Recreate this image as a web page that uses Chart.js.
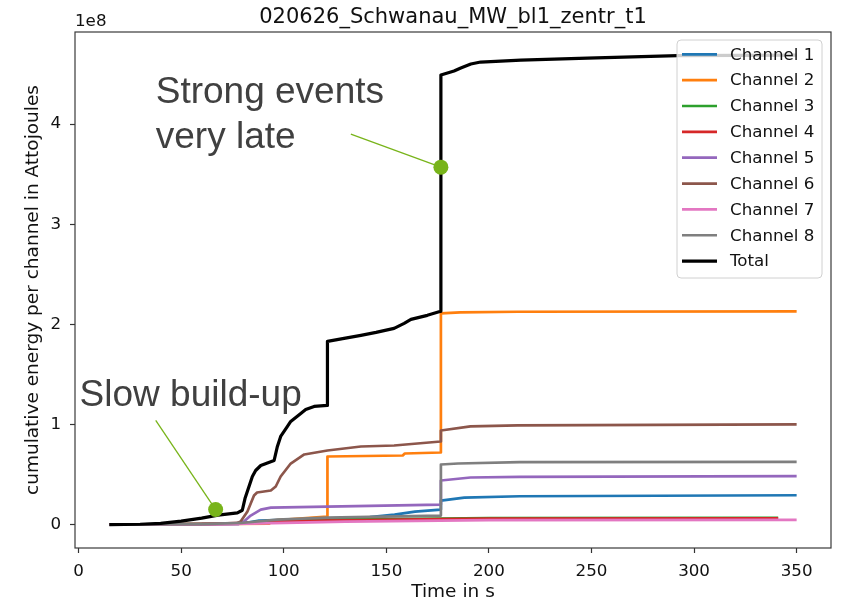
<!DOCTYPE html>
<html>
<head>
<meta charset="utf-8">
<script src="https://cdn.jsdelivr.net/npm/chart.js@4.4.0/dist/chart.umd.min.js"></script>
<style>
    html, body { margin: 0; padding: 0; background: #fff; }
    #wrap { width: 845px; height: 603px; }
</style>
</head>
<body>
<div id="wrap"><canvas id="energy" width="845" height="603"></canvas></div>
<script>
'use strict';

// time in s, cumulative energy in units of 1e8 aJ
var ch1T = [15, 80, 88, 120, 142, 154, 164, 176.5, 176.6, 188, 215, 350];
var ch1E = [0, 0.01, 0.04, 0.06, 0.075, 0.10, 0.13, 0.15, 0.24, 0.27, 0.283, 0.293];
var ch2T = [15, 93, 94, 121.2, 121.3, 158, 159, 176.5, 176.6, 186, 214, 350];
var ch2E = [0, 0.01, 0.04, 0.08, 0.68, 0.69, 0.71, 0.72, 2.11, 2.12, 2.126, 2.13];
var ch3T = [15, 60, 80, 95, 120, 176, 200, 341];
var ch3E = [0, 0.005, 0.015, 0.04, 0.05, 0.06, 0.065, 0.068];
var ch4T = [15, 60, 85, 100, 140, 176, 200, 341];
var ch4E = [0, 0.005, 0.02, 0.035, 0.045, 0.055, 0.06, 0.062];
var ch5T = [15, 78, 80.6, 83.9, 88.8, 93.7, 121.3, 176.5, 176.6, 191, 215, 350];
var ch5E = [0, 0.005, 0.03, 0.09, 0.15, 0.17, 0.18, 0.20, 0.44, 0.47, 0.476, 0.483];
var ch6T = [15, 77, 79, 82.3, 85.5, 87, 93.7, 96.1, 98.5, 103.4, 110, 121.3, 137.6, 153.8, 176.5, 176.6, 191, 214, 350];
var ch6E = [0, 0.01, 0.03, 0.13, 0.29, 0.32, 0.34, 0.38, 0.48, 0.61, 0.70, 0.74, 0.78, 0.79, 0.83, 0.94, 0.98, 0.99, 1.0];
var ch7T = [15, 70, 95, 130, 176, 200, 350];
var ch7E = [0, 0.005, 0.015, 0.03, 0.04, 0.045, 0.047];
var ch8T = [15, 60, 79, 97, 121, 176.5, 176.6, 185, 215, 350];
var ch8E = [0, 0.005, 0.016, 0.05, 0.07, 0.09, 0.60, 0.61, 0.623, 0.626];
var totT = [15, 30, 40, 50, 60, 68, 77.4, 79.8, 81.1, 84.7, 86.3, 88.8, 95.3, 96.9, 98.5, 101.8, 103.4, 108.3, 110.7, 114.8,
            121.2, 121.3, 129.4, 137.6, 145, 153.8, 158.7, 162, 170, 176.5, 176.6, 183, 186.3, 191.2, 196, 215.6, 248, 292, 350];
var totE = [0, 0.003, 0.012, 0.035, 0.065, 0.095, 0.116, 0.143, 0.26, 0.48, 0.54, 0.59, 0.64, 0.78, 0.88, 0.98, 1.03, 1.11, 1.15, 1.18,
            1.19, 1.83, 1.86, 1.89, 1.92, 1.96, 2.01, 2.05, 2.09, 2.13, 4.49, 4.53, 4.56, 4.60, 4.62, 4.64, 4.66, 4.685, 4.69];

var seriesNames = ['Channel 1', 'Channel 2', 'Channel 3', 'Channel 4', 'Channel 5', 'Channel 6', 'Channel 7', 'Channel 8', 'Total'];
var seriesColors = ['#1f77b4', '#ff7f0e', '#2ca02c', '#d62728', '#9467bd', '#8c564b', '#e377c2', '#7f7f7f', '#000000'];
var seriesT = [ch1T, ch2T, ch3T, ch4T, ch5T, ch6T, ch7T, ch8T, totT];
var seriesE = [ch1E, ch2E, ch3E, ch4E, ch5E, ch6E, ch7E, ch8E, totE];

var xTicks = [0, 50, 100, 150, 200, 250, 300, 350];
var yTicks = [0, 1, 2, 3, 4];

// callouts: text anchor, line start, marker on the total curve (data coords)
var notes = [
    { lines: ['Strong events', 'very late'], tx: 37.6, ty: 4.21, lx: 132.7, ly: 3.90, px: 176.6, py: 3.57 },
    { lines: ['Slow build-up'], tx: 0.5, ty: 1.18, lx: 37.6, ly: 1.04, px: 66.8, py: 0.15 }
];

var tickFont = { family: 'DejaVu Sans', size: 16.7 };
var labelFont = { family: 'DejaVu Sans', size: 18.5 };

var datasets = seriesNames.map(function (name, i) {
    return {
        label: name,
        data: seriesT[i].map(function (t, k) { return { x: t, y: seriesE[i][k] }; }),
        borderColor: seriesColors[i],
        backgroundColor: seriesColors[i],
        borderWidth: i === 8 ? 3.2 : 2.7,
        borderJoinStyle: 'round',
        pointRadius: 0,
        tension: 0,
        fill: false,
        order: 9 - i
    };
});

var extras = {
    id: 'extras',
    afterDraw: function (chart) {
        var ctx = chart.ctx;
        var ca = chart.chartArea;
        var xs = chart.scales.x, ys = chart.scales.y;
        ctx.save();

        // axes box
        ctx.strokeStyle = '#3a3a3a';
        ctx.lineWidth = 1.2;
        ctx.strokeRect(ca.left, ca.top, ca.right - ca.left, ca.bottom - ca.top);

        // offset text of the y axis
        ctx.fillStyle = '#111';
        ctx.font = '16.7px "DejaVu Sans"';
        ctx.textAlign = 'left';
        ctx.textBaseline = 'alphabetic';
        ctx.fillText('1e8', ca.left, ca.top - 6);

        // callouts
        notes.forEach(function (n) {
            var green = '#78b41a';
            ctx.strokeStyle = green;
            ctx.lineWidth = 1.3;
            ctx.beginPath();
            ctx.moveTo(xs.getPixelForValue(n.lx), ys.getPixelForValue(n.ly));
            ctx.lineTo(xs.getPixelForValue(n.px), ys.getPixelForValue(n.py));
            ctx.stroke();
            ctx.fillStyle = green;
            ctx.beginPath();
            ctx.arc(xs.getPixelForValue(n.px), ys.getPixelForValue(n.py), 7.5, 0, Math.PI * 2);
            ctx.fill();
            ctx.fillStyle = '#404040';
            ctx.font = '37px "Liberation Sans"';
            ctx.textAlign = 'left';
            ctx.textBaseline = 'alphabetic';
            n.lines.forEach(function (s, k) {
                ctx.fillText(s, xs.getPixelForValue(n.tx), ys.getPixelForValue(n.ty) + k * 45);
            });
        });

        // legend box, upper right
        var bw = 145, bh = 238;
        var bx = ca.right - 9 - bw, by = ca.top + 8;
        ctx.beginPath();
        ctx.roundRect(bx, by, bw, bh, 4);
        ctx.fillStyle = 'rgba(255,255,255,0.8)';
        ctx.fill();
        ctx.strokeStyle = '#d0d0d0';
        ctx.lineWidth = 1;
        ctx.stroke();
        ctx.font = '16.7px "DejaVu Sans"';
        ctx.textBaseline = 'middle';
        seriesNames.forEach(function (name, i) {
            var y = by + 14.3 + i * 25.85;
            ctx.strokeStyle = seriesColors[i];
            ctx.lineWidth = i === 8 ? 3.2 : 2.7;
            ctx.beginPath();
            ctx.moveTo(bx + 5, y);
            ctx.lineTo(bx + 40, y);
            ctx.stroke();
            ctx.fillStyle = '#111';
            ctx.fillText(name, bx + 53, y + 1);
        });
        ctx.restore();
    }
};

var energyChart = new Chart(document.getElementById('energy'), {
    type: 'line',
    data: { datasets: datasets },
    plugins: [extras],
    options: {
        responsive: false,
        animation: false,
        events: [],
        layout: { padding: { left: 0, right: 14, top: 0, bottom: 0 } },
        plugins: {
            legend: { display: false },
            tooltip: { enabled: false },
            title: {
                display: true,
                fullSize: false,
                text: '020626_Schwanau_MW_bl1_zentr_t1',
                color: '#111',
                font: { family: 'DejaVu Sans', size: 21, weight: 'normal' },
                padding: { top: 5, bottom: 1.8 }
            }
        },
        scales: {
            x: {
                type: 'linear',
                min: -1.75,
                max: 366.75,
                afterBuildTicks: function (scale) {
                    scale.ticks = xTicks.map(function (v) { return { value: v }; });
                },
                afterFit: function (scale) { scale.height = 55; },
                grid: { display: true, drawOnChartArea: false, drawTicks: true, tickLength: 5, tickColor: '#333', tickWidth: 1.2 },
                border: { display: false },
                ticks: { color: '#111', font: tickFont, padding: 9, maxRotation: 0 },
                title: { display: true, text: 'Time in s', color: '#111', font: labelFont, padding: { top: 0, bottom: 0 } }
            },
            y: {
                type: 'linear',
                min: -0.234,
                max: 4.92,
                afterBuildTicks: function (scale) {
                    scale.ticks = yTicks.map(function (v) { return { value: v }; });
                },
                afterFit: function (scale) { scale.width = 75; },
                grid: { display: true, drawOnChartArea: false, drawTicks: true, tickLength: 5, tickColor: '#333', tickWidth: 1.2 },
                border: { display: false },
                ticks: { color: '#111', font: tickFont, padding: 9 },
                title: { display: true, text: 'cumulative energy per channel in Attojoules', color: '#111', font: labelFont, padding: { top: 22, bottom: 0 } }
            }
        }
    }
});
</script>
</body>
</html>
